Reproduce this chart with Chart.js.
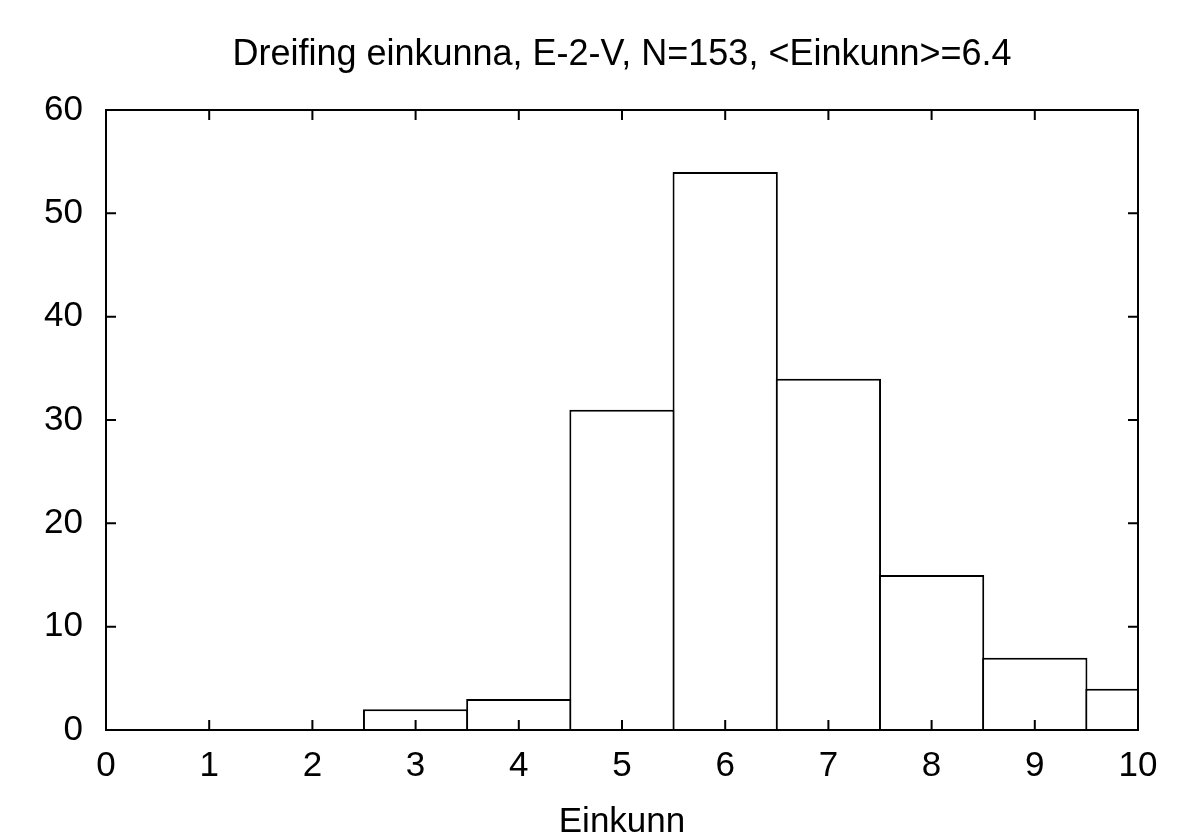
<!DOCTYPE html>
<html>
<head>
<meta charset="utf-8">
<script src="https://cdn.jsdelivr.net/npm/chart.js@4"></script>
<style>
  html, body { margin: 0; padding: 0; background: #fff; }
  #wrap { width: 1200px; height: 840px; }
</style>
</head>
<body>
<div id="wrap"><canvas id="hist" width="1200" height="840"></canvas></div>
<script>
(() => {
  "use strict";

  // grade bins (centre of each bar) and counts
  const grades = [0, 1, 2, 3, 4, 5, 6, 7, 8, 9, 10];
  const counts = [0, 0, 0, 2, 3, 31, 54, 34, 15, 7, 4];
  const xTicks = [0, 1, 2, 3, 4, 5, 6, 7, 8, 9, 10];
  const yTicks = [0, 10, 20, 30, 40, 50, 60];

  const TITLE = "Dreifing einkunna, E-2-V, N=153, <Einkunn>=6.4";
  const X_LABEL = "Einkunn";
  const FONT = "'Liberation Sans', Arial, sans-serif";
  const FONT_SIZE = 35;

  // gnuplot style: frame around the plot, tick marks pointing inwards on all sides
  const framePlugin = {
    id: "frame",
    afterDatasetsDraw(chart) {
      const { ctx, chartArea: a, scales } = chart;
      const len = 10;
      ctx.save();
      ctx.strokeStyle = "#000";
      ctx.lineWidth = 2;
      ctx.strokeRect(a.left, a.top, a.right - a.left, a.bottom - a.top);
      ctx.beginPath();
      xTicks.forEach(v => {
        const x = scales.x.getPixelForValue(v);
        ctx.moveTo(x, a.bottom); ctx.lineTo(x, a.bottom - len);
        ctx.moveTo(x, a.top); ctx.lineTo(x, a.top + len);
      });
      yTicks.forEach(v => {
        const y = scales.y.getPixelForValue(v);
        ctx.moveTo(a.left, y); ctx.lineTo(a.left + len, y);
        ctx.moveTo(a.right, y); ctx.lineTo(a.right - len, y);
      });
      ctx.stroke();
      ctx.restore();
    }
  };

  new Chart(document.getElementById("hist"), {
    type: "bar",
    data: {
      datasets: [{
        data: grades.map((g, i) => ({ x: g, y: counts[i] })),
        backgroundColor: "#fff",
        borderColor: "#000",
        borderWidth: { top: 2, left: 2, right: 2, bottom: 0 },
        borderSkipped: false,
        // a hair wider than the bin so neighbouring borders overlap into one line
        barPercentage: 1.02,
        categoryPercentage: 1,
        clip: 0
      }]
    },
    options: {
      responsive: false,
      animation: false,
      layout: { padding: { left: 0, right: 62, top: 0, bottom: 0 } },
      plugins: {
        legend: { display: false },
        tooltip: { enabled: false },
        title: {
          display: true,
          fullSize: false,   // centre over the plot area, not the canvas
          text: TITLE,
          color: "#000",
          font: { family: FONT, size: 36, weight: "normal", lineHeight: 1.2 },
          padding: { top: 33, bottom: 33.8 }
        }
      },
      scales: {
        x: {
          type: "linear",
          min: 0,
          max: 10,
          offset: false,
          grid: { display: false, drawTicks: false, offset: false },
          border: { display: false },
          afterBuildTicks: s => { s.ticks = xTicks.map(v => ({ value: v })); },
          afterFit: s => { s.height = 110; },
          ticks: {
            color: "#000",
            font: { family: FONT, size: FONT_SIZE },
            padding: 15,
            maxRotation: 0,
            autoSkip: false
          },
          title: {
            display: true,
            text: X_LABEL,
            color: "#000",
            font: { family: FONT, size: FONT_SIZE },
            padding: { top: 0, bottom: -3 }
          }
        },
        y: {
          min: 0,
          max: 60,
          grid: { display: false, drawTicks: false },
          border: { display: false },
          afterBuildTicks: s => { s.ticks = yTicks.map(v => ({ value: v })); },
          afterFit: s => { s.width = 106; },
          ticks: {
            color: "#000",
            font: { family: FONT, size: FONT_SIZE },
            padding: 23
          }
        }
      }
    },
    plugins: [framePlugin]
  });
})();
</script>
</body>
</html>
